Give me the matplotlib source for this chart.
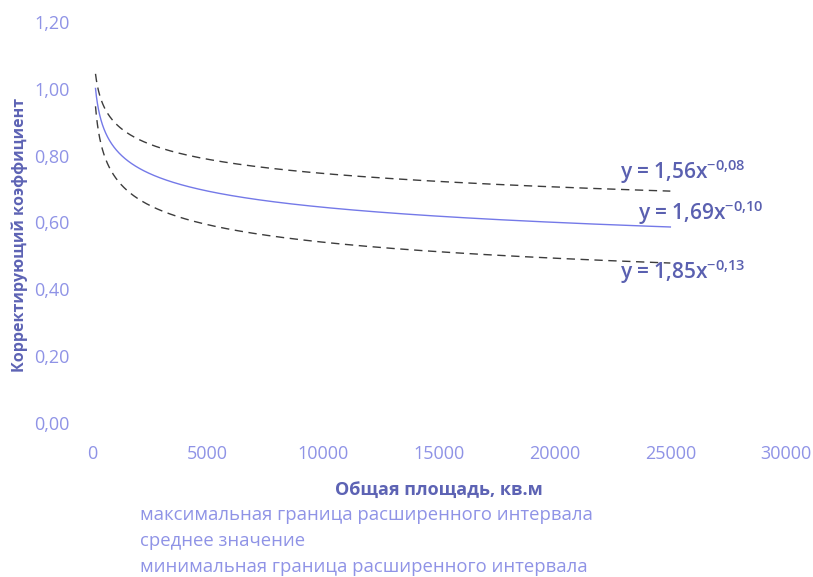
import numpy as np
import matplotlib
matplotlib.use("Agg")
import matplotlib.pyplot as plt
from matplotlib.lines import Line2D

plt.rcParams['font.family'] = ['Open Sans', 'DejaVu Sans']
plt.rcParams['mathtext.fontset'] = 'custom'
plt.rcParams['mathtext.rm'] = 'Open Sans'
plt.rcParams['mathtext.bf'] = 'Open Sans:bold'

# Power trendlines y = a * x^b for the three series
series_names = [
    "максимальная граница расширенного интервала",
    "среднее значение",
    "минимальная граница расширенного интервала",
]
coef_a = [1.56, 1.69, 1.85]
exp_b = [-0.08, -0.1045, -0.1335]
eq_labels = ["y = 1,56x", "y = 1,69x", "y = 1,85x"]
eq_powers = ["-0{,}08", "-0{,}10", "-0{,}13"]
area_start = 150
area_end = 25000

x_ticks = [0, 5000, 10000, 15000, 20000, 25000, 30000]
y_ticks = [0.0, 0.2, 0.4, 0.6, 0.8, 1.0, 1.2]

tick_color = "#8f93e6"
title_color = "#5d63b4"
eq_color = "#5a60b0"

fig = plt.figure(figsize=(8.13, 5.77), dpi=100)
ax = fig.add_axes([0.1132, 0.2669, 0.8536, 0.6950])

xs = np.geomspace(area_start, area_end, 400)
styles = [
    dict(color="#3c3c3c", lw=1.0, ls=(0, (6, 4))),
    dict(color="#7479e8", lw=1.0, ls="-"),
    dict(color="#3c3c3c", lw=1.0, ls=(0, (6, 4))),
]
for a, b, st in zip(coef_a, exp_b, styles):
    ax.plot(xs, a * xs ** b, **st)

eq_pos = [(22840, 0.752), (23620, 0.630), (22840, 0.452)]
for (ex, ey), lab, p in zip(eq_pos, eq_labels, eq_powers):
    ax.text(ex, ey, lab + r"$^{\mathregular{" + p + "}}$", color=eq_color,
            fontsize=15, fontweight="semibold", ha="left", va="center")

ax.set_xlim(0, 30000)
ax.set_ylim(0, 1.2)
ax.set_xticks(x_ticks)
ax.set_xticklabels([str(v) for v in x_ticks])
ax.set_yticks(y_ticks)
ax.set_yticklabels([f"{v:.2f}".replace(".", ",") for v in y_ticks])
ax.tick_params(axis="both", length=0, colors=tick_color, labelsize=13)
ax.tick_params(axis="x", pad=16)
ax.tick_params(axis="y", pad=16)
for s in ax.spines.values():
    s.set_visible(False)

ax.set_xlabel("Общая площадь, кв.м", color=title_color, fontsize=13,
              fontweight="bold", labelpad=13)
ax.set_ylabel("Корректирующий коэффициент", color=title_color, fontsize=11.5,
              fontweight="bold")
ax.yaxis.set_label_coords(-0.092, 0.469)

handles = [Line2D([], [], linestyle="none") for _ in series_names]
fig.legend(handles, series_names, loc="upper left",
           bbox_to_anchor=(0.172, 0.123), frameon=False, handlelength=0,
           handletextpad=0, labelspacing=0.44, fontsize=13.3,
           labelcolor=tick_color, borderaxespad=0, borderpad=0)

fig.savefig("out.png", dpi=100)
